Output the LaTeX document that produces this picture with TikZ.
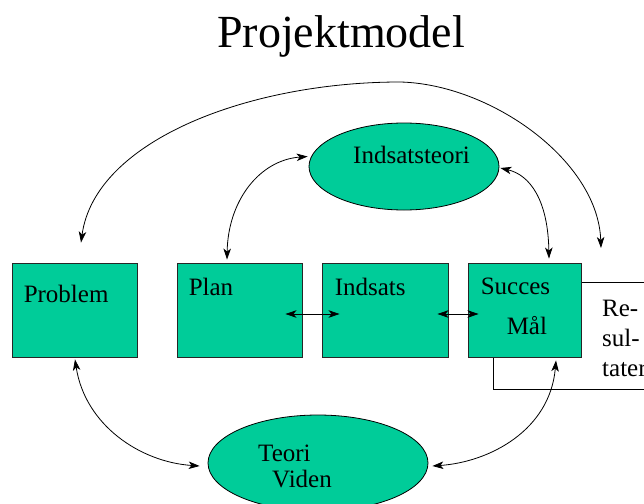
\documentclass[tikz,border=0pt]{standalone}
\usepackage{fontspec}
\setmainfont{Liberation Serif}
\usetikzlibrary{positioning, arrows.meta, shapes.geometric, calc}
\definecolor{cBox}{HTML}{00CC99}
\tikzset{
  blok/.style    ={draw=black!85, line width=0.9pt, fill=cBox,
                   minimum height=94pt, inner sep=0pt},
  sky/.style     ={ellipse, draw=black, line width=0.8pt, fill=cBox, inner sep=0pt},
  resbox/.style  ={draw=black, line width=0.9pt, fill=white, inner sep=0pt},
  lbl/.style     ={anchor=base west, inner sep=0pt, font=\fontsize{25}{30}\selectfont},
  link/.style    ={<->, >={Stealth[length=11pt, width=7.5pt, inset=3pt]},
                   line width=0.8pt, draw=black},
}

\begin{document}
\begin{tikzpicture}[x=1pt, y=-1pt]
  \useasboundingbox (0,0) rectangle (644,503);
  \clip (0,0) rectangle (644,503);

  % title
  \node[lbl, font=\fontsize{46}{50}\selectfont] (title) at (217,48) {Projektmodel};

  % result frame sits behind the last box
  \node[resbox, anchor=north west, minimum width=180pt, minimum height=107pt] (res) at (493,282) {};

  % --- the four boxes in a row ---
  \node[blok, minimum width=125pt] (prob) at (74.5,310) {};
  \node[blok, minimum width=125pt] (plan) at (239.5,310) {};
  \node[blok, minimum width=126pt] (ind)  at (385,310) {};
  \node[blok, minimum width=113pt] (suc)  at (524.5,310) {};

  % --- the two ellipses ---
  \node[sky, minimum width=190pt, minimum height=87pt] (teo) at (404,166.5) {};
  \node[sky, minimum width=220pt, minimum height=96pt] (vid) at (318,463) {};

  % labels (base of a multi-line node is its last line)
  \node[lbl] at ([shift={(12,40)}]prob.north west) {Problem};
  \node[lbl] at ([shift={(12,33)}]plan.north west) {Plan};
  \node[lbl] at ([shift={(13,33)}]ind.north west) {Indsats};
  \node[lbl] at ([shift={(13,32)}]suc.north west) {Succes};
  \node[lbl] at ([shift={(39,72)}]suc.north west) {Mål};
  \node[lbl, align=left] at ([shift={(109,94)}]res.north west) {Re-\\sul-\\tater};
  \node[lbl] at ([shift={(-51,-3.5)}]teo.center) {Indsatsteori};
  \node[lbl] at ([shift={(-60,-2)}]vid.center) {Teori};
  \node[lbl] at ([shift={(-46,24)}]vid.center) {Viden};

  % --- connectors ---
  \draw[link] ($(prob.north)+(6.5,-20)$) .. controls (95,140) and (250,82) .. (400,82)
              .. controls (490,84) and (598,160) .. ($(res.north west)+(108,-34)$);
  \draw[link] ($(plan.north)+(-12.5,-3)$) .. controls (228,200) and (260,160) .. ($(teo.west)+(-1,-10)$);
  \draw[link] ($(suc.north)+(24.5,-4)$) .. controls (548,200) and (530,175) .. ($(teo.east)+(1,1.5)$);
  \draw[link] ($(prob.south)+(0.5,2)$) .. controls (85,425) and (140,462) .. ($(vid.west)+(-8,3)$);
  \draw[link] ($(suc.south)+(31.5,3)$) .. controls (550,430) and (490,462) .. ($(vid.east)+(4,3)$);
  \draw[link] ($(plan.east)+(-17,4)$) -- ($(ind.west)+(18,4)$);
  \draw[link] ($(ind.east)+(-11,4)$) -- ($(suc.west)+(11,4)$);
\end{tikzpicture}
\end{document}
